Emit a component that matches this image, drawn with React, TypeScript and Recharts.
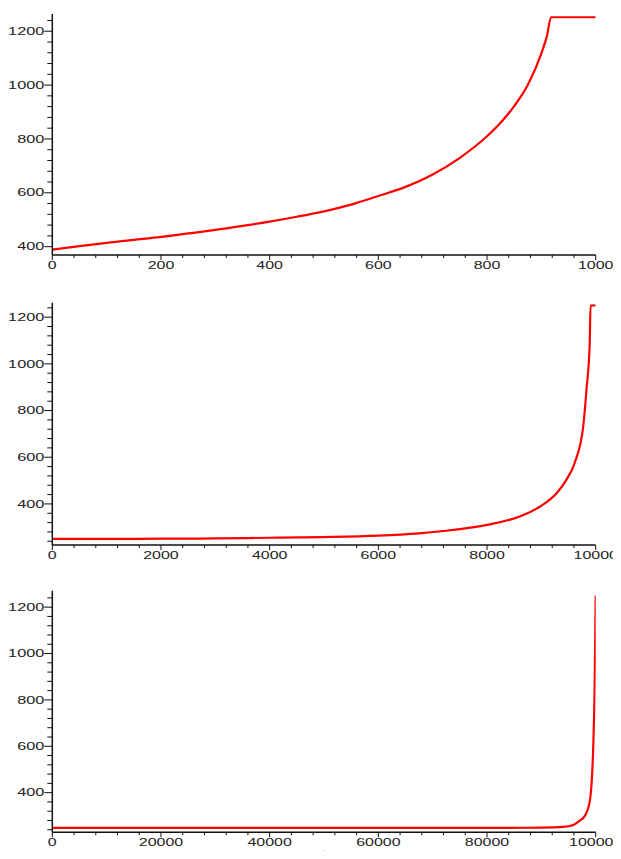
import { LineChart, Line, XAxis, YAxis, Label } from "recharts";

// panel 1: t 0..1000
const t1 = [0, 50, 100, 150, 200, 250, 300, 350, 400, 450, 500, 550, 600, 650, 700, 750, 800, 825, 850, 875, 900, 910, 918, 1000];
const v1 = [389, 402, 414, 425, 436, 449, 462, 477, 493, 511, 531, 556, 588, 622, 668, 730, 810, 860, 922, 1000, 1118, 1180, 1252, 1252];

// panel 2: t 0..10000
const t2 = [0, 1000, 2000, 3000, 4000, 5000, 6000, 6750, 7250, 7500, 8000, 8600, 8970, 9280, 9460, 9610, 9770, 9830, 9890, 9905, 10000];
const v2 = [250, 250, 251, 252, 255, 258, 264, 274, 285, 292, 310, 346, 388, 446, 503, 574, 731, 889, 1089, 1250, 1250];

// panel 3: t 0..100000
const t3 = [0, 20000, 40000, 60000, 80000, 90000, 94000, 96000, 97000, 98000, 98500, 99000, 99300, 99550, 99800, 99950, 100000];
const v3 = [248, 248, 248, 248, 248, 249, 252, 262, 278, 300, 325, 378, 460, 600, 850, 1150, 1250];

const xLabels1 = [0, 200, 400, 600, 800, 1000];
const xLabels2 = [0, 2000, 4000, 6000, 8000, 10000];
const xLabels3 = [0, 20000, 40000, 60000, 80000, 100000];
const yLabels = [400, 600, 800, 1000, 1200];

const FONT = "Liberation Sans, Arial, sans-serif";

function steps(from: number, to: number, step: number) {
  const out: number[] = [];
  for (let v = from; v <= to + 1e-9; v += step) out.push(v);
  return out;
}

const XTick = (props: any) => {
  const { x, y, payload, majors } = props;
  const major = majors.includes(payload.value);
  return (
    <g>
      <line x1={x} y1={y} x2={x} y2={y + (major ? 5 : 3)} stroke="#111" strokeWidth={1} />
      {major && (
        <text
          transform={`translate(${x},${y + 14}) scale(1.52,1)`}
          textAnchor="middle"
          fontFamily={FONT}
          fontSize={10.5}
          fill="#222"
        >
          {payload.value}
        </text>
      )}
    </g>
  );
};

const YTick = (props: any) => {
  const { x, y, payload } = props;
  const major = yLabels.includes(payload.value);
  return (
    <g>
      <line x1={x} y1={y} x2={x - (major ? 8 : 5)} y2={y} stroke="#111" strokeWidth={1} />
      {major && (
        <text
          transform={`translate(${x - 8},${y + 3.7}) scale(1.55,1)`}
          textAnchor="end"
          fontFamily={FONT}
          fontSize={10.5}
          fill="#222"
        >
          {payload.value}
        </text>
      )}
    </g>
  );
};

type PanelProps = {
  t: number[];
  v: number[];
  xMax: number;
  xStep: number;
  xLabels: number[];
  yDomain: [number, number];
  yTicks: number[];
  top: number;
  height: number;
  marginTop: number;
  xAxisHeight: number;
  tLabel?: boolean;
};

function Panel(p: PanelProps) {
  const data = p.t.map((t, i) => ({ t, v: p.v[i] }));
  const xTicks = steps(0, p.xMax, p.xStep);
  return (
    <div style={{ position: "absolute", left: 0, top: p.top }}>
      <LineChart
        width={621}
        height={p.height}
        data={data}
        margin={{ top: p.marginTop, right: 25.3, bottom: 0, left: 0 }}
      >
        <XAxis
          dataKey="t"
          type="number"
          domain={[0, p.xMax]}
          allowDataOverflow
          ticks={xTicks}
          interval={0}
          tickSize={0}
          tickMargin={0}
          height={p.xAxisHeight}
          axisLine={{ stroke: "#111", strokeWidth: 1.5 }}
          tick={<XTick majors={p.xLabels} />}
        >
          {p.tLabel && (
            <Label value="t" position="insideBottom" offset={1} fontFamily={FONT} fontSize={10} fill="#222" />
          )}
        </XAxis>
        <XAxis
          xAxisId="top"
          orientation="top"
          dataKey="t"
          type="number"
          domain={[0, p.xMax]}
          height={0}
          tick={false}
          tickLine={false}
          axisLine={{ stroke: "#888", strokeWidth: 1 }}
        />
        <YAxis
          type="number"
          domain={p.yDomain}
          allowDataOverflow
          ticks={p.yTicks}
          interval={0}
          tickSize={0}
          tickMargin={0}
          width={52.3}
          axisLine={{ stroke: "#111", strokeWidth: 1.5 }}
          tick={<YTick />}
        />
        <YAxis
          yAxisId="right"
          orientation="right"
          type="number"
          domain={p.yDomain}
          width={0}
          tick={false}
          tickLine={false}
          axisLine={{ stroke: "#111", strokeWidth: 1.5 }}
        />
        <Line
          dataKey="v"
          type="monotone"
          stroke="#ff0000"
          strokeWidth={2.2}
          dot={false}
          isAnimationActive={false}
        />
      </LineChart>
    </div>
  );
}

export default function App() {
  return (
    <div style={{ position: "relative", width: 621, height: 859, margin: -8, overflow: "hidden", background: "#fff" }}>
      <Panel
        t={t1}
        v={v1}
        xMax={1000}
        xStep={40}
        xLabels={xLabels1}
        yDomain={[369, 1264]}
        yTicks={steps(400, 1240, 40)}
        top={0}
        height={280}
        marginTop={14}
        xAxisHeight={25}
      />
      <Panel
        t={t2}
        v={v2}
        xMax={10000}
        xStep={400}
        xLabels={xLabels2}
        yDomain={[224, 1262]}
        yTicks={steps(240, 1240, 40)}
        top={290}
        height={280}
        marginTop={12.7}
        xAxisHeight={25}
      />
      <Panel
        t={t3}
        v={v3}
        xMax={100000}
        xStep={4000}
        xLabels={xLabels3}
        yDomain={[229, 1271]}
        yTicks={steps(240, 1240, 40)}
        top={578}
        height={281}
        marginTop={12.7}
        xAxisHeight={26.7}
        tLabel
      />
    </div>
  );
}
